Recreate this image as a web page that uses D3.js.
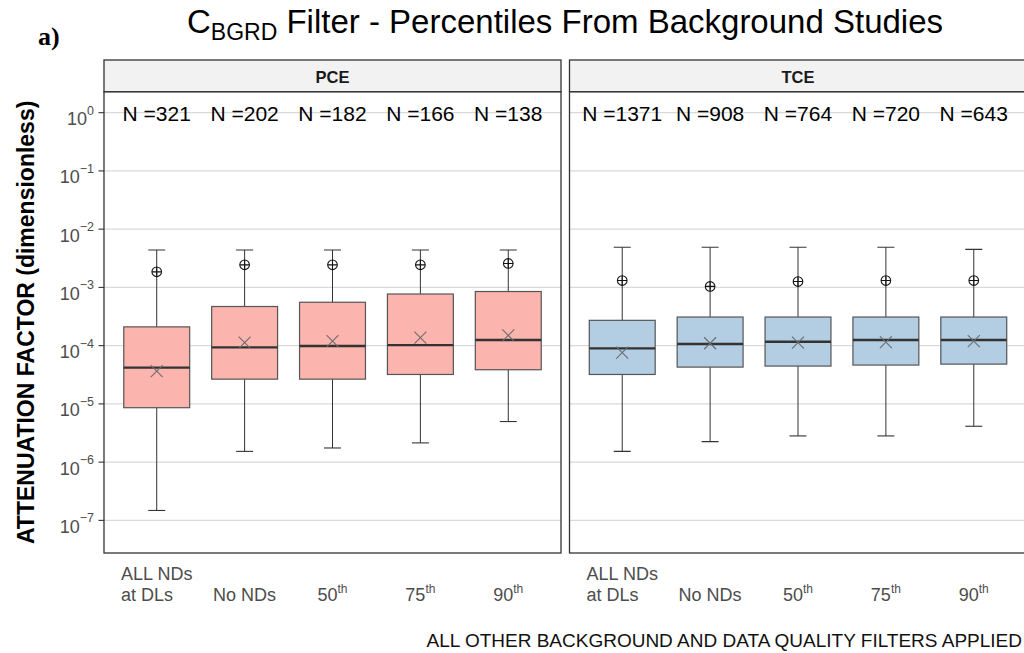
<!DOCTYPE html>
<html>
<head>
<meta charset="utf-8">
<script src="https://cdn.jsdelivr.net/npm/d3@7"></script>
<style>
  html, body { margin: 0; padding: 0; background: #fff; }
  svg { display: block; font-family: "Liberation Sans", Arial, sans-serif; }
</style>
</head>
<body>
<svg id="chart" width="1024" height="653"></svg>
<script>
// ---------- data ----------
const categories = ["ALL NDs|at DLs", "No NDs", "50|th", "75|th", "90|th"];
const panels = ["PCE", "TCE"];
const yTickExps = [0, -1, -2, -3, -4, -5, -6, -7];

const pceN       = [321, 202, 182, 166, 138];
const pceLow     = [1.48e-7, 1.53e-6, 1.75e-6, 2.14e-6, 4.98e-6];
const pceQ1      = [8.6e-6, 2.66e-5, 2.66e-5, 3.2e-5, 3.86e-5];
const pceMedian  = [4.2e-5, 9.35e-5, 9.86e-5, 1.02e-4, 1.25e-4];
const pceQ3      = [2.1e-4, 4.7e-4, 5.56e-4, 7.7e-4, 8.5e-4];
const pceHigh    = [4.4e-3, 4.4e-3, 4.4e-3, 4.4e-3, 4.4e-3];
const pceOutlier = [1.85e-3, 2.44e-3, 2.44e-3, 2.44e-3, 2.58e-3];
const pceMean    = [3.65e-5, 1.13e-4, 1.2e-4, 1.37e-4, 1.5e-4];

const tceN       = [1371, 908, 764, 720, 643];
const tceLow     = [1.53e-6, 2.25e-6, 2.82e-6, 2.82e-6, 4.13e-6];
const tceQ1      = [3.2e-5, 4.28e-5, 4.46e-5, 4.64e-5, 4.82e-5];
const tceMedian  = [8.99e-5, 1.07e-4, 1.17e-4, 1.25e-4, 1.25e-4];
const tceQ3      = [2.72e-4, 3.1e-4, 3.1e-4, 3.1e-4, 3.1e-4];
const tceHigh    = [4.9e-3, 4.9e-3, 4.9e-3, 4.9e-3, 4.5e-3];
const tceOutlier = [1.31e-3, 1.04e-3, 1.26e-3, 1.31e-3, 1.31e-3];
const tceMean    = [7.57e-5, 1.1e-4, 1.13e-4, 1.15e-4, 1.2e-4];

const panelFill = { PCE: "#FBB4AE", TCE: "#B3CDE3" };

function build(N, low, q1, med, q3, high, out, mean) {
  return categories.map((c, i) => ({ cat: c, n: N[i], low: low[i], q1: q1[i], med: med[i],
    q3: q3[i], high: high[i], out: out[i], mean: mean[i] }));
}
const dataByPanel = {
  PCE: build(pceN, pceLow, pceQ1, pceMedian, pceQ3, pceHigh, pceOutlier, pceMean),
  TCE: build(tceN, tceLow, tceQ1, tceMedian, tceQ3, tceHigh, tceOutlier, tceMean)
};

// ---------- layout ----------
const svg = d3.select("#chart");
const stripTop = 60, panelTop = 91.7, panelBottom = 553;
const panelX = { PCE: [104, 561], TCE: [569.5, 1026.5] };

const y = d3.scaleLog()
  .domain([Math.pow(10, -7.56), Math.pow(10, 0.36)])
  .range([panelBottom, panelTop]);

// Title
const title = svg.append("text")
  .attr("x", 565).attr("y", 33)
  .attr("text-anchor", "middle")
  .style("font-size", "33px").attr("fill", "#000");
title.append("tspan").text("C");
title.append("tspan").attr("dy", 7).style("font-size", "23px").text("BGRD");
title.append("tspan").attr("dy", -7).text(" Filter - Percentiles From Background Studies");

svg.append("text").attr("x", 38).attr("y", 45)
  .style("font-family", "'Liberation Serif', 'Times New Roman', serif")
  .style("font-weight", "bold").style("font-size", "26px").text("a)");

// Y axis title
svg.append("text")
  .attr("transform", `translate(34,${(panelTop + panelBottom) / 2}) rotate(-90)`)
  .attr("text-anchor", "middle")
  .style("font-weight", "bold").style("font-size", "23px").attr("fill", "#000")
  .text("ATTENUATION FACTOR (dimensionless)");

// Bottom caption
svg.append("text").attr("x", 1022).attr("y", 647)
  .attr("text-anchor", "end").style("font-size", "19px").attr("fill", "#111")
  .text("ALL OTHER BACKGROUND AND DATA QUALITY FILTERS APPLIED");

// Y axis (left panel only)
const yAxisG = svg.append("g");
yTickExps.forEach(e => {
  const yy = y(Math.pow(10, e));
  yAxisG.append("line").attr("x1", 98.5).attr("x2", 104).attr("y1", yy).attr("y2", yy)
    .attr("stroke", "#333").attr("stroke-width", 1.1);
  const t = yAxisG.append("text").attr("x", 94).attr("y", yy + 12.5)
    .attr("text-anchor", "end").style("font-size", "18px").attr("fill", "#4D4D4D");
  t.append("tspan").text("10");
  t.append("tspan").attr("dy", -10.5).style("font-size", "12.5px").text(e === 0 ? "0" : "\u2212" + Math.abs(e));
});

panels.forEach(p => {
  const [x0, x1] = panelX[p];
  const data = dataByPanel[p];
  const x = d3.scaleBand().domain(categories).range([x0, x1]).paddingInner(0).paddingOuter(0.1);
  const cx = d => x(d.cat) + x.bandwidth() / 2;
  const bw = x.bandwidth() * 0.75;
  const g = svg.append("g");

  const clipId = "clip-" + p;
  svg.append("clipPath").attr("id", clipId).append("rect")
    .attr("x", x0).attr("y", panelTop).attr("width", x1 - x0).attr("height", panelBottom - panelTop);
  const inner = g.append("g").attr("clip-path", `url(#${clipId})`);

  // gridlines
  inner.selectAll("line.grid").data(yTickExps).join("line")
    .attr("x1", x0).attr("x2", x1)
    .attr("y1", e => y(Math.pow(10, e))).attr("y2", e => y(Math.pow(10, e)))
    .attr("stroke", "#D9D9D9").attr("stroke-width", 1.1);

  // whisker line
  inner.selectAll("line.wh").data(data).join("line")
    .attr("x1", cx).attr("x2", cx).attr("y1", d => y(d.low)).attr("y2", d => y(d.high))
    .attr("stroke", "#333").attr("stroke-width", 1);
  ["low", "high"].forEach(k => {
    inner.selectAll("line.cap" + k).data(data).join("line")
      .attr("x1", d => cx(d) - 8.5).attr("x2", d => cx(d) + 8.5)
      .attr("y1", d => y(d[k])).attr("y2", d => y(d[k]))
      .attr("stroke", "#333").attr("stroke-width", 1.1);
  });
  // boxes
  inner.selectAll("rect.box").data(data).join("rect")
    .attr("x", d => cx(d) - bw / 2).attr("width", bw)
    .attr("y", d => y(d.q3)).attr("height", d => y(d.q1) - y(d.q3))
    .attr("fill", panelFill[p]).attr("stroke", "#555").attr("stroke-width", 1.2);
  // medians
  inner.selectAll("line.med").data(data).join("line")
    .attr("x1", d => cx(d) - bw / 2).attr("x2", d => cx(d) + bw / 2)
    .attr("y1", d => y(d.med)).attr("y2", d => y(d.med))
    .attr("stroke", "#333").attr("stroke-width", 2.4);
  // mean X
  const m = 6;
  inner.selectAll("path.mean").data(data).join("path")
    .attr("d", d => { const X = cx(d), Y = y(d.mean);
      return `M${X - m},${Y - m}L${X + m},${Y + m}M${X - m},${Y + m}L${X + m},${Y - m}`; })
    .attr("stroke", "#6E6E6E").attr("stroke-width", 1.1).attr("fill", "none");
  // outlier circle-plus
  const r = 4.8;
  inner.selectAll("circle.out").data(data).join("circle")
    .attr("cx", cx).attr("cy", d => y(d.out)).attr("r", r)
    .attr("fill", "none").attr("stroke", "#111").attr("stroke-width", 1.1);
  inner.selectAll("path.outc").data(data).join("path")
    .attr("d", d => { const X = cx(d), Y = y(d.out);
      return `M${X - r},${Y}L${X + r},${Y}M${X},${Y - r}L${X},${Y + r}`; })
    .attr("stroke", "#111").attr("stroke-width", 1.1);

  // N labels
  inner.selectAll("text.n").data(data).join("text")
    .attr("x", cx).attr("y", y(1) + 8)
    .attr("text-anchor", "middle").style("font-size", "21px").attr("fill", "#000")
    .text(d => "N =" + d.n);

  // panel border
  g.append("rect").attr("x", x0).attr("y", panelTop).attr("width", x1 - x0).attr("height", panelBottom - panelTop)
    .attr("fill", "none").attr("stroke", "#333").attr("stroke-width", 1.3);
  // strip
  g.append("rect").attr("x", x0).attr("y", stripTop).attr("width", x1 - x0).attr("height", panelTop - stripTop)
    .attr("fill", "#F2F2F2").attr("stroke", "#333").attr("stroke-width", 1.3);
  g.append("text").attr("x", (x0 + x1) / 2).attr("y", 83)
    .attr("text-anchor", "middle").style("font-weight", "bold").style("font-size", "16.5px").attr("fill", "#1a1a1a")
    .text(p);

  // x tick labels
  data.forEach(d => {
    const parts = d.cat.split("|");
    const X = cx(d);
    if (d.cat.startsWith("ALL")) {
      const t1 = g.append("text").attr("x", X).attr("y", 580).attr("text-anchor", "middle")
        .style("font-size", "18px").attr("fill", "#4D4D4D").text(parts[0]);
      const w = t1.node().getComputedTextLength();
      g.append("text").attr("x", X - w / 2).attr("y", 601).attr("text-anchor", "start")
        .style("font-size", "18px").attr("fill", "#4D4D4D").text(parts[1]);
    } else {
      const t = g.append("text").attr("x", X).attr("y", 601).attr("text-anchor", "middle")
        .style("font-size", "18px").attr("fill", "#4D4D4D");
      t.append("tspan").text(parts[0]);
      if (parts[1]) t.append("tspan").attr("dy", -8).style("font-size", "12px").text(parts[1]);
    }
  });
});
</script>
</body>
</html>
